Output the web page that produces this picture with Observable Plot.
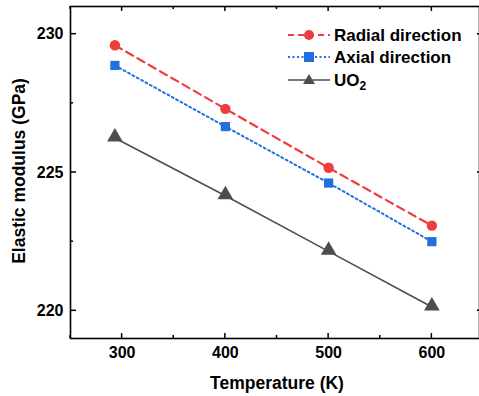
<!DOCTYPE html>
<html><head><meta charset="utf-8">
<script src="https://cdn.jsdelivr.net/npm/d3@7"></script>
<script src="https://cdn.jsdelivr.net/npm/@observablehq/plot@0.6"></script>
<style>
body{margin:0;background:#fff;}
svg{font-family:"Liberation Sans",Arial,sans-serif;}
</style>
</head><body>
<div id="chart"></div>
<script>
const temperatures = [293, 400, 500, 600];
const radial = [229.6, 227.3, 225.17, 223.08];
const axial = [228.87, 226.66, 224.62, 222.5];
const uo2 = [226.25, 224.16, 222.15, 220.14];
const seriesNames = ["Radial direction", "Axial direction", "UO2"];
const xMajorTicks = [300, 400, 500, 600];
const xMinorTicks = [250, 350, 450, 550, 650];
const yMajorTicks = [220, 225, 230];
const yMinorTicks = [222.5, 227.5];

const colors = {"Radial direction": "#ee3d3d", "Axial direction": "#2170e0", "UO2": "#4d4d4d"};
const dashes = {"Radial direction": "8,5", "Axial direction": "2,3", "UO2": null};
const widths = {"Radial direction": 2.2, "Axial direction": 2, "UO2": 1.6};

const data = [];
[radial, axial, uo2].forEach((arr, i) => arr.forEach((v, j) => data.push({series: seriesNames[i], T: temperatures[j], E: v})));

const W = 479, H = 396, mL = 70, mT = 6, mB = 58;
const bySeries = s => data.filter(d => d.series === s);

const marks = [
  Plot.frame({stroke: "#000", strokeWidth: 1.6}),
  Plot.axisX(xMajorTicks, {tickSize: 0, tickPadding: 8, fontSize: 16, fontWeight: "bold", fill: "#000", label: null}),
  Plot.axisY(yMajorTicks, {tickSize: 0, tickPadding: 7, fontSize: 16, fontWeight: "bold", fill: "#000", label: null}),
];
for (const s of seriesNames) {
  marks.push(Plot.line(bySeries(s), {x: "T", y: "E", stroke: colors[s], strokeWidth: widths[s], strokeDasharray: dashes[s]}));
}
marks.push(Plot.dot(bySeries("Radial direction"), {x: "T", y: "E", symbol: "circle", r: 5.2, fill: colors["Radial direction"]}));
marks.push(Plot.dot(bySeries("Axial direction"), {x: "T", y: "E", symbol: "square", r: 5.2, fill: colors["Axial direction"]}));
marks.push(Plot.dot(bySeries("UO2"), {x: "T", y: "E", symbol: "triangle", r: 5.8, fill: colors["UO2"], dy: -1}));

const plot = Plot.plot({
  width: W, height: H,
  marginLeft: mL, marginTop: mT, marginBottom: mB, marginRight: 0,
  x: {domain: [250, 650], range: [mL, 483]},
  y: {domain: [219, 231]},
  marks
});

const svg = d3.select(plot);
const xs = plot.scale("x"), ys = plot.scale("y");
const gT = svg.append("g").attr("stroke", "#000").attr("stroke-width", 1.5);
const x0 = xs.apply(250), x1 = xs.apply(650);
const y0 = ys.apply(219), y1 = ys.apply(231);
const hTick = (v, len) => {
  const y = ys.apply(v);
  gT.append("line").attr("x1", x0).attr("x2", x0 + len).attr("y1", y).attr("y2", y);
  gT.append("line").attr("x1", x1 - len).attr("x2", x1).attr("y1", y).attr("y2", y);
};
const vTick = (v, len) => {
  const x = xs.apply(v);
  gT.append("line").attr("x1", x).attr("x2", x).attr("y1", y0).attr("y2", y0 - len);
  gT.append("line").attr("x1", x).attr("x2", x).attr("y1", y1).attr("y2", y1 + len);
};
yMajorTicks.forEach(v => hTick(v, 6));
yMinorTicks.forEach(v => hTick(v, 3));
xMajorTicks.forEach(v => vTick(v, 5));
xMinorTicks.forEach(v => vTick(v, 3));

// axis titles
svg.append("text").attr("x", 277).attr("y", 389).attr("text-anchor", "middle")
  .attr("font-size", 17.5).attr("font-weight", "bold").attr("fill", "#000").text("Temperature (K)");
svg.append("text").attr("transform", "translate(25,171) rotate(-90)").attr("text-anchor", "middle")
  .attr("font-size", 17.5).attr("font-weight", "bold").attr("fill", "#000").text("Elastic modulus (GPa)");

// legend
const legRows = [35, 57, 80];
const lg = svg.append("g");
seriesNames.forEach((s, i) => {
  const y = legRows[i];
  lg.append("line").attr("x1", 288).attr("x2", 330).attr("y1", y).attr("y2", y)
    .attr("stroke", colors[s]).attr("stroke-width", widths[s])
    .attr("stroke-dasharray", i === 0 ? "6,4" : i === 1 ? "2,2.5" : null);
  if (i === 0) lg.append("circle").attr("cx", 309).attr("cy", y).attr("r", 5).attr("fill", colors[s]);
  if (i === 1) lg.append("rect").attr("x", 304).attr("y", y - 5).attr("width", 10).attr("height", 10).attr("fill", colors[s]);
  if (i === 2) lg.append("path").attr("d", `M303,${y+4}L315,${y+4}L309,${y-6}Z`).attr("fill", colors[s]);
  const t = lg.append("text").attr("x", 334).attr("y", y).attr("dy", "0.35em").attr("text-anchor", "start")
    .attr("font-size", 17).attr("font-weight", "bold").attr("fill", "#000");
  if (s === "UO2") {
    t.append("tspan").text("UO");
    t.append("tspan").attr("font-size", 12).attr("dy", "0.35em").text("2");
  } else t.text(s);
});

document.getElementById("chart").appendChild(plot);
</script>
</body></html>
